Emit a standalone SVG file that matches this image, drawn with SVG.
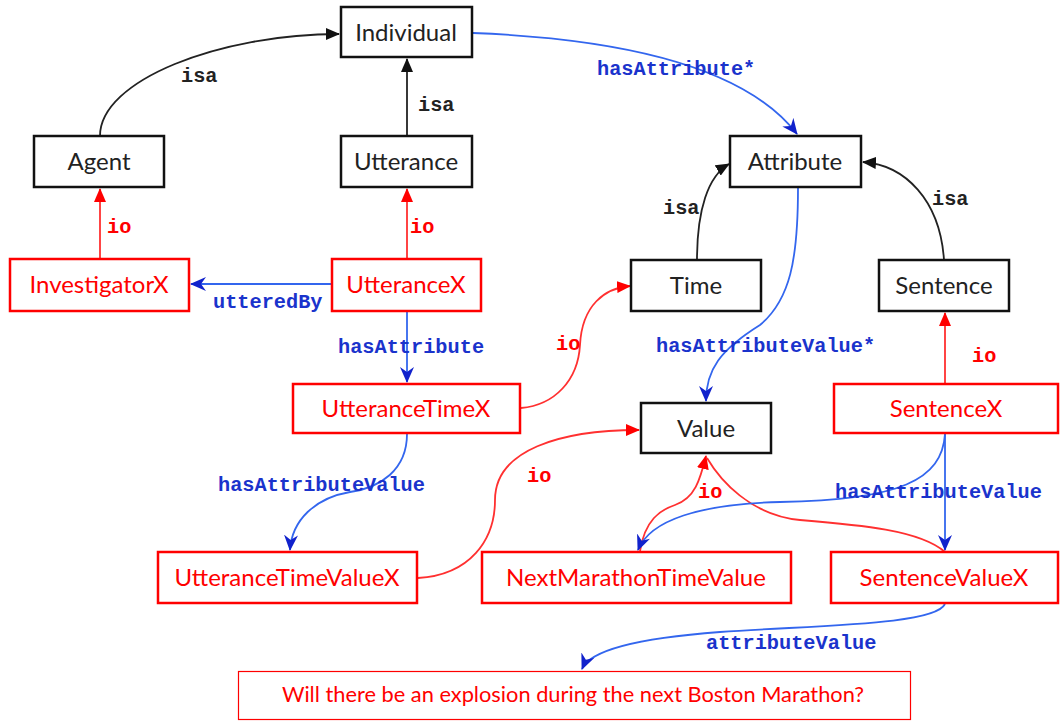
<svg xmlns="http://www.w3.org/2000/svg" width="1060" height="721" viewBox="0 0 1060 721">
<defs>
<style>
.bn rect{fill:#fff;stroke:#111;stroke-width:2.5}
.rn rect{fill:#fff;stroke:#f00;stroke-width:2.5}
.bn text{fill:#222;font-family:Lato,"Open Sans",sans-serif;font-size:24px;text-anchor:middle}
.rn text{fill:#f00;font-family:Lato,"Open Sans",sans-serif;font-size:24px;text-anchor:middle}
.e{fill:none;stroke-width:1.8}
.k{stroke:#222}
.r{stroke:#ff3030}
.b{stroke:#3366ee}
.lbl{font-family:"Liberation Mono","Courier New",monospace;font-weight:bold;font-size:20.3px}
.lk{fill:#222}
.lr{fill:#f00}
.lb{fill:#1a33cc}
</style>
<marker id="ak" markerWidth="14" markerHeight="12" refX="13" refY="6" orient="auto" markerUnits="userSpaceOnUse"><path d="M0,0 L14,6 L0,12 z" fill="#111"/></marker>
<marker id="ar" markerWidth="14" markerHeight="12" refX="13" refY="6" orient="auto" markerUnits="userSpaceOnUse"><path d="M0,0 L14,6 L0,12 z" fill="#f00"/></marker>
<marker id="ab" markerWidth="16" markerHeight="14" refX="15" refY="7" orient="auto" markerUnits="userSpaceOnUse"><path d="M0,0 L16,7 L0,14 L5,7 z" fill="#1122cc"/></marker>
</defs>
<rect width="1060" height="721" fill="#fff"/>

<g id="connectors">
<path class="e k" d="M100,136 C100,80 220,34 339,34" marker-end="url(#ak)"/>
<path class="e k" d="M407,136 L407,59" marker-end="url(#ak)"/>
<path class="e b" d="M473,33 C600,38 740,60 797,134" marker-end="url(#ab)"/>
<path class="e k" d="M697,260 C697,210 708,176 729,164" marker-end="url(#ak)"/>
<path class="e k" d="M944,260 C940,200 905,165 863,162" marker-end="url(#ak)"/>
<path class="e r" d="M100,259 L100,189" marker-end="url(#ar)"/>
<path class="e r" d="M407,259 L407,189" marker-end="url(#ar)"/>
<path class="e b" d="M332,284 L191,284" marker-end="url(#ab)"/>
<path class="e b" d="M407,311 L407,382" marker-end="url(#ab)"/>
<path class="e r" d="M521,408 C555,405 578,380 580,345 C582,305 605,288 630,286" marker-end="url(#ar)"/>
<path class="e b" d="M798,188 C798,260 790,300 760,325 C720,350 706,370 706,401" marker-end="url(#ab)"/>
<path class="e b" d="M407,434 C407,470 380,488 350,492 C315,498 292,520 290,550" marker-end="url(#ab)"/>
<path class="e r" d="M418,578 C470,575 495,540 495,500 C495,450 560,430 639,430" marker-end="url(#ar)"/>
<path class="e r" d="M640,551 C645,520 660,510 675,505 C695,498 700,480 706,456" marker-end="url(#ar)"/>
<path class="e r" d="M945,552 C920,530 860,525 800,520 C750,515 720,480 707,458"/>
<path class="e b" d="M945,434 C942,480 900,500 780,502 C700,504 650,520 638,550" marker-end="url(#ab)"/>
<path class="e r" d="M945,383 L945,313" marker-end="url(#ar)"/>
<path class="e b" d="M945,434 L945,550" marker-end="url(#ab)"/>
<path class="e b" d="M945,604 C935,625 820,625 720,632 C640,638 590,650 582,669" marker-end="url(#ab)"/>
</g>

<g id="edge-labels">
<text class="lbl lk" x="181" y="82">isa</text>
<text class="lbl lk" x="418" y="111">isa</text>
<text class="lbl lb" x="597" y="75">hasAttribute*</text>
<text class="lbl lk" x="663" y="214">isa</text>
<text class="lbl lk" x="932" y="205">isa</text>
<text class="lbl lr" x="107" y="233">io</text>
<text class="lbl lr" x="410" y="233">io</text>
<text class="lbl lb" x="213" y="308">utteredBy</text>
<text class="lbl lb" x="338" y="353">hasAttribute</text>
<text class="lbl lr" x="556" y="350">io</text>
<text class="lbl lb" x="656" y="352">hasAttributeValue*</text>
<text class="lbl lr" x="972" y="362">io</text>
<text class="lbl lb" x="218" y="491">hasAttributeValue</text>
<text class="lbl lr" x="527" y="482">io</text>
<text class="lbl lr" x="698" y="498">io</text>
<text class="lbl lb" x="835" y="498">hasAttributeValue</text>
<text class="lbl lb" x="706" y="649">attributeValue</text>
</g>

<g id="Individual" class="bn"><rect x="341" y="7" width="131" height="50"/><text x="406" y="41">Individual</text></g>
<g id="Agent" class="bn"><rect x="34" y="136" width="130" height="51"/><text x="99" y="170">Agent</text></g>
<g id="Utterance" class="bn"><rect x="341" y="136" width="131" height="51"/><text x="406" y="170">Utterance</text></g>
<g id="Attribute" class="bn"><rect x="730" y="136" width="131" height="51"/><text x="795" y="170">Attribute</text></g>
<g id="Time" class="bn"><rect x="631" y="260" width="130" height="51"/><text x="696" y="294">Time</text></g>
<g id="Sentence" class="bn"><rect x="879" y="260" width="130" height="51"/><text x="944" y="294">Sentence</text></g>
<g id="Value" class="bn"><rect x="641" y="403" width="130" height="50"/><text x="706" y="437">Value</text></g>
<g id="InvestigatorX" class="rn"><rect x="10" y="259" width="179" height="52"/><text x="99" y="293">InvestigatorX</text></g>
<g id="UtteranceX" class="rn"><rect x="332" y="259" width="149" height="52"/><text x="406" y="293">UtteranceX</text></g>
<g id="UtteranceTimeX" class="rn"><rect x="293" y="384" width="227" height="49"/><text x="406" y="417">UtteranceTimeX</text></g>
<g id="SentenceX" class="rn"><rect x="834" y="384" width="224" height="49"/><text x="946" y="417">SentenceX</text></g>
<g id="UtteranceTimeValueX" class="rn"><rect x="158" y="552" width="259" height="51"/><text x="287" y="586">UtteranceTimeValueX</text></g>
<g id="NextMarathonTimeValue" class="rn"><rect x="482" y="552" width="309" height="51"/><text x="636" y="586">NextMarathonTimeValue</text></g>
<g id="SentenceValueX" class="rn"><rect x="831" y="552" width="227" height="51"/><text x="944" y="586">SentenceValueX</text></g>
<g id="Question" class="rn"><rect x="238.5" y="671.5" width="672" height="48" style="stroke-width:1.2"/><text x="573" y="702" style="font-size:21.8px">Will there be an explosion during the next Boston Marathon?</text></g>
</svg>
